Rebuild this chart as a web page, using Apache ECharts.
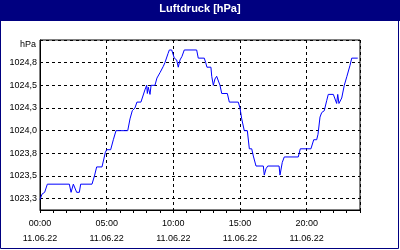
<!DOCTYPE html>
<html><head><meta charset="utf-8">
<script src="https://cdn.jsdelivr.net/npm/echarts@6/dist/echarts.min.js"></script>
<style>html,body{margin:0;padding:0;background:#fff}#c{width:400px;height:250px}</style>
</head><body><div id="c"></div>
<script>
const chartTitle = 'Luftdruck [hPa]';
const unitLabel = 'hPa';
const hours = [0, 0.15, 0.35, 0.55, 2.2, 2.33, 2.5, 2.75, 2.95, 3.05,
  3.9, 4.1, 4.25, 4.65, 4.9, 5.0, 5.3, 5.5, 5.7, 6.58,
  6.75, 6.92, 7.12, 7.27, 7.57, 7.87, 8.0, 8.05, 8.12, 8.25,
  8.33, 8.62, 8.77, 9.0, 9.25, 9.37, 9.6, 9.7, 9.88, 10.07,
  10.25, 10.37, 10.5, 10.65, 10.82, 11.75, 11.87, 12.32, 12.43, 12.52,
  12.82, 12.88, 13.0, 13.12, 13.25, 13.37, 13.5, 13.63, 14.05, 14.2,
  14.87, 15.0, 15.13, 15.32, 15.55, 15.7, 15.88, 16.0, 16.2, 16.75,
  16.82, 16.95, 17.08, 17.93, 18.0, 18.17, 18.32, 19.37, 19.52, 20.32,
  20.53, 20.75, 20.85, 21.0, 21.13, 21.32, 21.5, 21.62, 22.0, 22.25,
  22.33, 22.42, 22.52, 22.63, 22.82, 23.02, 23.25, 23.38, 23.83];
const pressure = [1023.24, 1023.30, 1023.32, 1023.41, 1023.41, 1023.32, 1023.41, 1023.32, 1023.32, 1023.41,
  1023.41, 1023.51, 1023.60, 1023.60, 1023.76, 1023.79, 1023.79, 1023.90, 1024.00, 1024.00,
  1024.13, 1024.22, 1024.25, 1024.315, 1024.315, 1024.45, 1024.50, 1024.41, 1024.48, 1024.40,
  1024.50, 1024.50, 1024.58, 1024.64, 1024.71, 1024.75, 1024.85, 1024.89, 1024.89, 1024.80,
  1024.78, 1024.70, 1024.78, 1024.82, 1024.89, 1024.89, 1024.80, 1024.80, 1024.75, 1024.70,
  1024.70, 1024.60, 1024.50, 1024.57, 1024.60, 1024.58, 1024.50, 1024.41, 1024.41, 1024.315,
  1024.315, 1024.25, 1024.13, 1024.00, 1024.00, 1023.80, 1023.80, 1023.72, 1023.61, 1023.61,
  1023.51, 1023.58, 1023.61, 1023.61, 1023.51, 1023.65, 1023.71, 1023.71, 1023.80, 1023.80,
  1023.90, 1023.90, 1023.96, 1024.15, 1024.20, 1024.22, 1024.33, 1024.40, 1024.40, 1024.30,
  1024.40, 1024.30, 1024.30, 1024.36, 1024.50, 1024.60, 1024.72, 1024.80, 1024.80];
const xTickHours = [0, 5, 10, 15, 20];
const xTickLabels = ['00:00\n11.06.22', '05:00\n11.06.22', '10:00\n11.06.22', '15:00\n11.06.22', '20:00\n11.06.22'];
const yTickValues = [1023.25, 1023.5, 1023.75, 1024.0, 1024.25, 1024.5, 1024.75];
const yTickLabels = ['1023,3', '1023,5', '1023,8', '1024,0', '1024,3', '1024,5', '1024,8'];

const FONT = 'Liberation Sans';
const data = hours.map((h, i) => [h, pressure[i]]);
function lookup(vals, labels, v) {
  for (let i = 0; i < vals.length; i++) if (Math.abs(vals[i] - v) < 1e-6) return labels[i];
  return '';
}
const chart = echarts.init(document.getElementById('c'), null, {renderer: 'canvas'});
chart.setOption({
  backgroundColor: '#ffffff',
  animation: false,
  title: {text: chartTitle, left: 'center', top: 3, padding: 0,
    textStyle: {color: '#ffffff', fontSize: 11, fontWeight: 'bold', fontFamily: FONT}},
  graphic: [
    {type: 'rect', z: -5, shape: {x: 0, y: 0, width: 400, height: 21}, style: {fill: '#000080'}},
    {type: 'rect', z: -5, shape: {x: 0.5, y: 0.5, width: 398, height: 248}, style: {fill: null, stroke: '#000080', lineWidth: 1}}
  ],
  grid: {left: 40, right: 40, top: 40, bottom: 40, show: true, borderColor: '#000', borderWidth: 1, backgroundColor: 'transparent'},
  xAxis: {
    type: 'value', min: 0, max: 24, interval: 5,
    axisLine: {show: true, lineStyle: {color: '#000', width: 1}},
    axisTick: {show: true, length: 3, lineStyle: {color: '#000'}},
    minorTick: {show: true, splitNumber: 5, length: 3, lineStyle: {color: '#000'}},
    axisLabel: {formatter: v => lookup(xTickHours, xTickLabels, v), color: '#000', fontSize: 9, fontFamily: FONT, lineHeight: 15, margin: 6},
    splitLine: {show: true, lineStyle: {color: '#000', type: [3, 3], width: 1}}
  },
  yAxis: {
    type: 'value', min: 1023.125, max: 1025, interval: 0.125,
    name: unitLabel, nameLocation: 'end', nameGap: -5,
    nameTextStyle: {align: 'right', verticalAlign: 'middle', padding: [0, 4, 0, 0], color: '#000', fontSize: 9, fontFamily: FONT},
    axisLine: {show: true, lineStyle: {color: '#000', width: 1}},
    axisTick: {show: false},
    axisLabel: {formatter: v => lookup(yTickValues, yTickLabels, v), color: '#000', fontSize: 9, fontFamily: FONT, margin: 3},
    splitLine: {show: true, lineStyle: {color: ['rgba(0,0,0,0)', '#000'], type: [3, 3], width: 1}}
  },
  series: [{
    type: 'line', data: data, showSymbol: false, symbol: 'none',
    lineStyle: {color: '#0000ff', width: 1}, itemStyle: {color: '#0000ff'}
  }]
});
</script>
</body></html>
